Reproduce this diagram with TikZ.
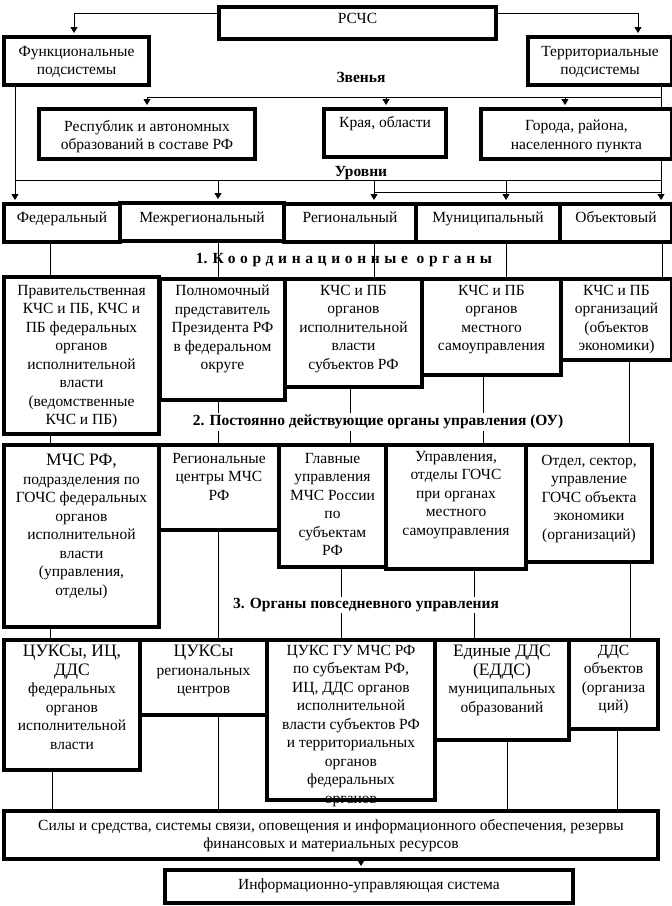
\documentclass[tikz,border=0pt]{standalone}
\usepackage{fontspec}
\setmainfont{Liberation Serif}
\usetikzlibrary{arrows.meta,backgrounds}
\tikzset{
  boxst/.style={draw, line width=4pt, fill=white, inner sep=0pt, anchor=north west, rectangle},
  txt/.style={align=center, inner sep=0pt, anchor=north,
    font=\fontsize{15.5}{18.5}\selectfont, execute at begin node={\rule{0pt}{11pt}}},
  conn/.style={line width=0.9pt},
  arr/.style={conn, -{Triangle[length=6pt,width=7pt]}},
  sect/.style={font=\fontsize{15.5}{18}\selectfont\bfseries, inner sep=1.5pt},
}
\newcommand\mkbox[7]{%
  \node[boxst, minimum width={(#4-#2)*1pt}, minimum height={(#5-#3)*1pt}] (#1) at (#2,#3) {};
  \node[txt] (#1t) at ([yshift=-#6pt]#1.north) {#7};
}
\newcommand\bgln[1]{{\fontsize{17.5}{20}\selectfont #1}}
\begin{document}
\begin{tikzpicture}[x=1pt,y=-1pt]
\useasboundingbox (0,0) rectangle (672,906);
% boxes
\mkbox{rscs}{217}{5}{494}{37}{7}{РСЧС}
\mkbox{func}{2}{35}{147}{83}{11}{Функциональные\\подсистемы}
\mkbox{terr}{526}{35}{670}{83}{11}{Территориальные\\подсистемы}
\mkbox{rep}{37}{107}{253}{157}{13}{Республик и автономных\\образований в составе РФ}
\mkbox{kray}{322}{107}{444}{155}{9}{Края, области}
\mkbox{gor}{479}{107}{670}{157}{13}{Города, района,\\населенного пункта}
\mkbox{fed}{2}{202}{118}{240}{9}{Федеральный}
\mkbox{mezh}{118}{201}{282}{239}{10}{Межрегиональный}
\mkbox{reg}{282}{202}{414}{240}{9}{Региональный}
\mkbox{mun}{414}{202}{558}{240}{9}{Муниципальный}
\mkbox{obj}{558}{202}{670}{240}{9}{Объектовый}
\mkbox{ka}{2}{275}{157}{432}{10}{Правительственная\\КЧС и ПБ, КЧС и\\ПБ федеральных\\органов\\исполнительной\\власти\\(ведомственные\\КЧС и ПБ)}
\mkbox{kb}{158}{277}{283}{398}{8}{Полномочный\\представитель\\Президента РФ\\в федеральном\\округе}
\mkbox{kc}{283}{277}{420}{385}{8}{КЧС и ПБ\\органов\\исполнительной\\власти\\субъектов РФ}
\mkbox{kd}{420}{277}{559}{373}{8}{КЧС и ПБ\\органов\\местного\\самоуправления}
\mkbox{ke}{559}{277}{670}{358}{8}{КЧС и ПБ\\организаций\\(объектов\\экономики)}
\mkbox{ba}{2}{443}{157}{625}{11}{\bgln{МЧС РФ,}\\подразделения по\\ГОЧС федеральных\\органов\\исполнительной\\власти\\(управления,\\отделы)}
\mkbox{bb}{157}{443}{277}{528}{10}{Региональные\\центры МЧС\\РФ}
\mkbox{bc}{277}{443}{384}{565}{10}{Главные\\управления\\МЧС России\\по\\субъектам\\РФ}
\mkbox{bd}{384}{443}{524}{567}{8}{Управления,\\отделы ГОЧС\\при органах\\местного\\самоуправления}
\mkbox{be}{524}{443}{650}{560}{12}{Отдел, сектор,\\управление\\ГОЧС объекта\\экономики\\(организаций)}
\mkbox{ca}{2}{638}{138}{768}{7}{\bgln{ЦУКСы, ИЦ,}\\\bgln{ДДС}\\федеральных\\органов\\исполнительной\\власти}
\mkbox{cb}{138}{638}{265}{713}{7}{\bgln{ЦУКСы}\\региональных\\центров}
\mkbox{cc}{265}{638}{433}{798}{7}{ЦУКС ГУ МЧС РФ\\по субъектам РФ,\\ИЦ, ДДС органов\\исполнительной\\власти субъектов РФ\\и территориальных\\органов\\федеральных\\органов}
\mkbox{cd}{433}{638}{567}{738}{7}{\bgln{Единые ДДС}\\\bgln{(ЕДДС)}\\муниципальных\\образований}
\mkbox{ce}{567}{638}{656}{727}{7}{ДДС\\объектов\\(организа\\ций)}
\mkbox{sily}{2}{809}{656}{857}{10}{Силы и средства, системы связи, оповещения и информационного обеспечения, резервы\\финансовых и материальных ресурсов}
\mkbox{ius}{163}{868}{571}{901}{10}{Информационно-управляющая система}
% section labels
\node[sect] (lz) at (361,77) {Звенья};
\node[sect] (lu) at (361,173) {Уровни};
\node[sect] (l1) at (344,260) {1. {\addfontfeature{LetterSpace=30}Координационные органы}};
\node[sect, fill=white] (l2) at (378,422) {2. Постоянно действующие органы управления (ОУ)};
\node[sect, fill=white] (l3) at (366,605) {3. Органы повседневного управления};
% connectors
\begin{scope}[on background layer]
\fill[white] (0,0) rectangle (672,906);
\coordinate (jl) at (74,13);
\coordinate (jr) at (638,13);
\draw[arr] (rscs.west |- jl) -- (jl) -- ([yshift=2pt]func.north -| jl);
\draw[arr] (rscs.east |- jr) -- (jr) -- ([yshift=2pt]terr.north -| jr);
\coordinate (zL) at (147,97);
\coordinate (zR) at (661,97);
\draw[arr] (terr.south -| zR) -- ([yshift=2pt]obj.north -| zR);
\draw[conn] (zL) -- (zR);
\draw[arr] (zL) -- ([yshift=2pt]rep.north -| zL);
\draw[arr] (zL -| 386,0) -- ([yshift=2pt]kray.north -| 386,0);
\draw[arr] (zL -| 565,0) -- ([yshift=2pt]gor.north -| 565,0);
\coordinate (uL) at (15,180);
\coordinate (uR) at (661,180);
\coordinate (vL) at (374,192);
\draw[conn] (uL) -- (uR);
\draw[conn] (vL) -- (vL -| uR);
\draw[arr] (func.south -| uL) -- ([yshift=2pt]fed.north -| uL);
\draw[arr] (uL -| 218,0) -- ([yshift=2pt]mezh.north -| 218,0);
\draw[arr] (uL -| 374,0) -- ([yshift=2pt]reg.north -| 374,0);
\draw[arr] (uL -| 506,0) -- ([yshift=2pt]mun.north -| 506,0);
% levels -> coordination
\draw[conn] (fed.south -| 50,0) -- (ka.north -| 50,0);
\draw[conn] (mezh.south -| 218,0) -- (kb.north -| 218,0);
\draw[conn] (reg.south -| 374,0) -- (kc.north -| 374,0);
\draw[conn] (mun.south -| 506,0) -- (kd.north -| 506,0);
\draw[conn] (obj.south -| 662,0) -- (ke.north -| 662,0);
% coordination -> row 2
\draw[conn] (ka.south -| 50,0) -- (ba.north -| 50,0);
\draw[conn] (kb.south -| 218,0) -- (bb.north -| 218,0);
\draw[conn] (kc.south -| 350,0) -- (bc.north -| 350,0);
\draw[conn] (kd.south -| 483,0) -- (bd.north -| 483,0);
\draw[conn] (ke.south -| 629,0) -- (be.north -| 629,0);
% row 2 -> row 3
\draw[conn] (ba.south -| 50,0) -- (ca.north -| 50,0);
\draw[conn] (bb.south -| 218,0) -- (cb.north -| 218,0);
\draw[conn] (bc.south -| 341,0) -- (cc.north -| 341,0);
\draw[conn] (bd.south -| 474,0) -- (cd.north -| 474,0);
\draw[conn] (be.south -| 630,0) -- (ce.north -| 630,0);
% row 3 -> sily
\draw[conn] (ca.south -| 52,0) -- (sily.north -| 52,0);
\draw[conn] (cb.south -| 218,0) -- (sily.north -| 218,0);
\draw[conn] (cd.south -| 507,0) -- (sily.north -| 507,0);
\draw[conn] (ce.south -| 617,0) -- (sily.north -| 617,0);
\draw[arr] (sily.south -| 361,0) -- ([yshift=2pt]ius.north -| 361,0);
\end{scope}
\end{tikzpicture}
\end{document}
